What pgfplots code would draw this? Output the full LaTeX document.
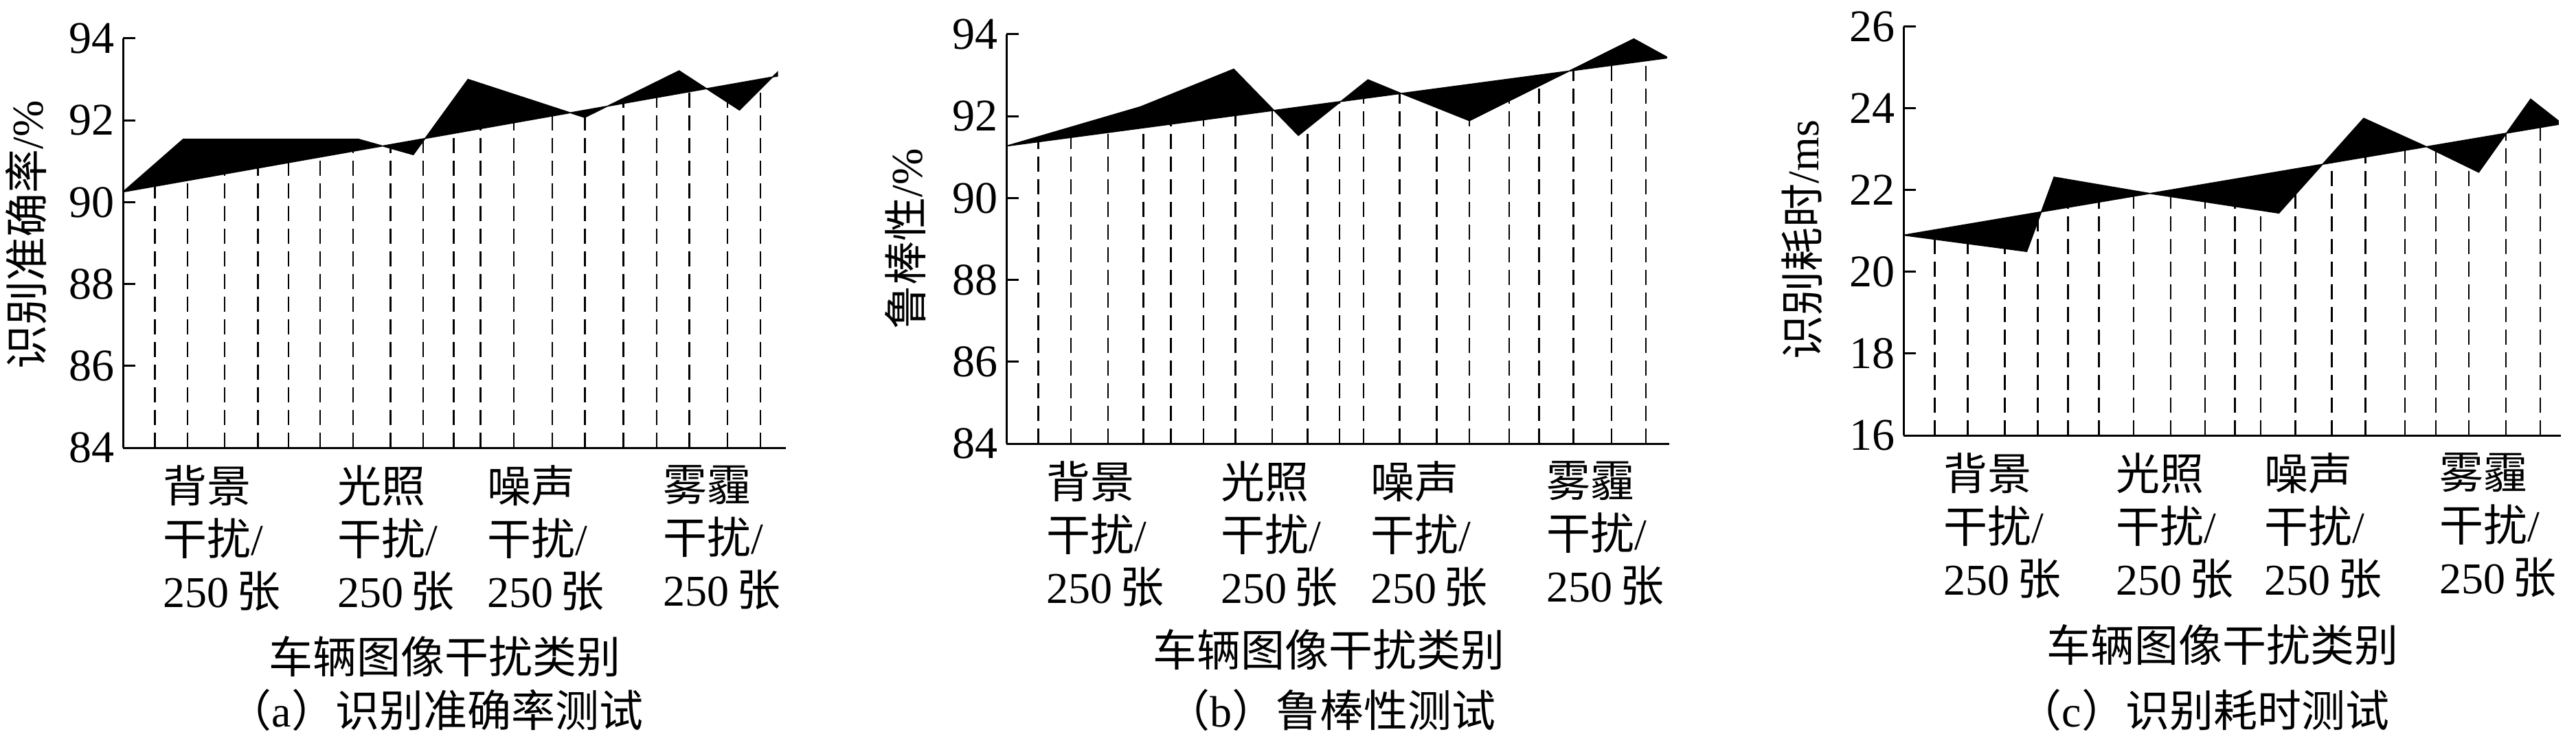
\documentclass[border=0pt]{standalone}
\usepackage{fontspec}
\setmainfont{Liberation Serif}
\newfontfamily\cjk{Noto Sans CJK SC}
\usepackage{pgfplots}
\pgfplotsset{compat=1.18}

\newcommand\fs{\fontsize{12.8bp}{15.3bp}\selectfont}

\pgfplotsset{
  panel/.style={
    scale only axis, anchor=south west,
    xmin=0, xmax=20,
    axis lines=left, axis line style={-, line width=0.6bp},
    tick align=inside, major tick length=3.6bp,
    every tick/.style={black, line width=0.6bp},
    xtick={1.2,6.45,10.97,16.28},
    xtick style={draw=none},
    xticklabels={{{\cjk 背景}\\{\cjk 干扰}/\\250\,{\cjk 张}},
                 {{\cjk 光照}\\{\cjk 干扰}/\\250\,{\cjk 张}},
                 {{\cjk 噪声}\\{\cjk 干扰}/\\250\,{\cjk 张}},
                 {{\cjk 雾霾}\\{\cjk 干扰}/\\250\,{\cjk 张}}},
    xticklabel style={anchor=north west, align=left, font=\fs, inner sep=0pt, yshift=-5bp},
    yticklabel style={font=\fontsize{13.2bp}{15bp}\selectfont, inner sep=0pt, xshift=-2.4bp},
    /pgf/number format/assume math mode=true,
    label style={font=\fs},
    xlabel={\cjk 车辆图像干扰类别},
  },
  dash/.style={ycomb, no markers, black, line width=0.5bp, dash pattern=on 4.4bp off 2.2bp},
  wedge/.style={fill=black, draw=black, line width=0.3bp, no markers},
}

\begin{document}
\begin{tikzpicture}
\useasboundingbox (0,0) rectangle (750bp,216.4bp);

% (a) recognition accuracy
\begin{axis}[panel, at={(35.8bp,86bp)}, width=193bp, height=119.2bp,
  ymin=84, ymax=94, ytick={84,86,...,94},
  ylabel={{\cjk 识别准确率}/\%},
  ylabel style={at={(axis description cs:-0.146,0.52)}, anchor=center},
  xlabel style={at={(axis description cs:0.486,0)}, anchor=center, yshift=-60.8bp}]
\addplot[dash] coordinates {
  (0.96,90.39) (1.95,90.53) (3.07,90.69) (4.07,90.83) (4.99,90.97)
  (5.95,91.10) (6.94,91.24) (8.07,91.41) (9.06,91.55) (9.98,91.68)
  (10.79,91.80) (11.79,91.94) (12.95,92.11) (13.94,92.25) (15.10,92.41)
  (16.10,92.56) (17.09,92.70) (18.24,92.86) (19.23,93.01)};
\addplot[wedge] coordinates {
  (0,90.25) (1.82,91.54) (7.10,91.54) (8.76,91.16) (10.41,93.00)
  (13.93,92.07) (16.78,93.21) (18.60,92.25) (19.75,93.18) (19.75,93.08)} -- cycle;
\end{axis}

% (b) robustness
\begin{axis}[panel, at={(293bp,87.2bp)}, width=193bp, height=119.2bp,
  ymin=84, ymax=94, ytick={84,86,...,94},
  ylabel={{\cjk 鲁棒性}/\%},
  ylabel style={at={(axis description cs:-0.152,0.5)}, anchor=center},
  xlabel style={at={(axis description cs:0.486,0)}, anchor=center, yshift=-60bp}]
\addplot[dash] coordinates {
  (0.96,91.37) (1.95,91.48) (3.07,91.60) (4.13,91.72) (4.96,91.81)
  (5.95,91.91) (6.91,92.02) (8.02,92.14) (9.09,92.25) (10.05,92.35)
  (10.78,92.43) (11.87,92.55) (12.98,92.67) (13.97,92.78) (15.17,92.91)
  (16.07,93.00) (17.11,93.12) (18.26,93.24) (19.29,93.35)};
\addplot[wedge] coordinates {
  (0,91.27) (4.05,92.23) (6.86,93.15) (8.81,91.53) (10.91,92.89)
  (11.87,92.57) (13.97,91.89) (18.93,93.89) (19.92,93.45) (19.92,93.42)} -- cycle;
\end{axis}

% (c) recognition time
\begin{axis}[panel, at={(554.2bp,89.6bp)}, width=191.4bp, height=119bp,
  ymin=16, ymax=26, ytick={16,18,...,26},
  ylabel={{\cjk 识别耗时}/ms},
  ylabel style={at={(axis description cs:-0.154,0.479)}, anchor=center},
  xlabel style={at={(axis description cs:0.485,0)}, anchor=center, yshift=-61bp}]
\addplot[dash] coordinates {
  (0.95,21.03) (1.95,21.17) (3.08,21.32) (4.08,21.45) (5.00,21.58)
  (5.95,21.71) (7.00,21.85) (8.13,22.01) (9.17,22.15) (10.08,22.27)
  (10.87,22.38) (11.92,22.52) (13.03,22.67) (14.05,22.81) (15.25,22.97)
  (16.20,23.10) (17.20,23.24) (18.33,23.39) (19.37,23.53)};
\addplot[wedge] coordinates {
  (0,20.90) (3.75,20.50) (4.58,22.32) (7.50,21.92) (11.42,21.44)
  (14.00,23.76) (15.92,23.06) (17.50,22.44) (19.08,24.23) (19.92,23.70) (19.92,23.61)} -- cycle;
\end{axis}

\node[font=\fs] at (126.8bp,9.6bp) {{\cjk （}a{\cjk ）识别准确率测试}};
\node[font=\fs] at (387.4bp,9.6bp) {{\cjk （}b{\cjk ）鲁棒性测试}};
\node[font=\fs] at (641.6bp,9.6bp) {{\cjk （}c{\cjk ）识别耗时测试}};
\end{tikzpicture}
\end{document}
